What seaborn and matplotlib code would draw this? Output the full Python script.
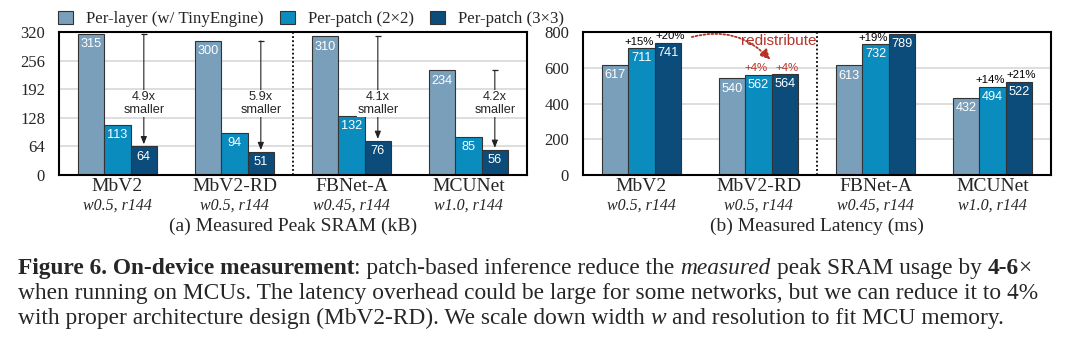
import matplotlib
matplotlib.use("Agg")
import matplotlib.pyplot as plt
from matplotlib.patches import Patch
import pandas as pd
import seaborn as sns

# ---- data -------------------------------------------------------------
models = ["MbV2", "MbV2-RD", "FBNet-A", "MCUNet"]
configs = ["w0.5, r144", "w0.5, r144", "w0.45, r144", "w1.0, r144"]
methods = ["Per-layer (w/ TinyEngine)", "Per-patch (2×2)", "Per-patch (3×3)"]

sram_per_layer = [315, 300, 310, 234]
sram_patch_2x2 = [113, 94, 132, 85]
sram_patch_3x3 = [64, 51, 76, 56]

latency_per_layer = [617, 540, 613, 432]
latency_patch_2x2 = [711, 562, 732, 494]
latency_patch_3x3 = [741, 564, 789, 522]

sram_ticks = [0, 64, 128, 192, 256, 320]
latency_ticks = [0, 200, 400, 600, 800]

# which latency overheads (2x2, 3x3) get a "+x%" tag, and in which colour
overhead_shown = [[True, True], [True, True], [True, False], [True, True]]
overhead_red = [False, True, False, False]

panel_titles = ["(a) Measured Peak SRAM (kB)", "(b) Measured Latency (ms)"]

# ---- style ------------------------------------------------------------
sns.set_style("white")
SERIF = ["Liberation Serif", "DejaVu Serif"]
SANS = ["Liberation Sans", "DejaVu Sans"]
plt.rcParams["font.family"] = SERIF

colors = ["#7a9fbb", "#0b8cbf", "#0b4c7b"]
edge = "#333333"
red = "#b5322a"

W, H = 1067, 342
fig = plt.figure(figsize=(W / 100, H / 100), dpi=100)
ax_sram = fig.add_axes([59 / W, 1 - 175 / H, 468 / W, 143 / H])
ax_lat = fig.add_axes([583 / W, 1 - 175 / H, 468 / W, 143 / H])


def long_frame(series):
    rows = []
    for method, values in zip(methods, series):
        for model, v in zip(models, values):
            rows.append({"model": model, "method": method, "value": v})
    return pd.DataFrame(rows)


def draw_panel(ax, df, ticks, title):
    sns.barplot(data=df, x="model", y="value", hue="method", order=models,
                hue_order=methods, palette=colors, saturation=1, width=0.675,
                gap=0, edgecolor=edge, linewidth=0.8, legend=False, ax=ax,
                zorder=2)
    ax.set_xlim(-0.5, 3.5)
    ax.set_ylim(ticks[0], ticks[-1])
    ax.set_yticks(ticks)
    ax.set_yticklabels([str(t) for t in ticks], fontsize=12)
    ax.set_xticks([])
    ax.set_xlabel("")
    ax.set_ylabel("")
    ax.tick_params(axis="y", length=0, pad=10)
    ax.yaxis.grid(True, color="#d4d4d4", lw=1.1, zorder=0)
    ax.set_axisbelow(True)
    for sp in ax.spines.values():
        sp.set_visible(True)
        sp.set_color("black")
        sp.set_linewidth(1.5)
        sp.set_zorder(5)
    ax.axvline(1.5, color="black", ls=(0, (1, 1.3)), lw=1.3, zorder=4)

    # value tags inside the bar tops
    for cont in ax.containers:
        for bar in cont:
            h = bar.get_height()
            ax.annotate(f"{h:.0f}", (bar.get_x() + bar.get_width() / 2, h),
                        xytext=(0, -3), textcoords="offset points",
                        ha="center", va="top", color="white", fontsize=9.2,
                        family=SANS, zorder=6)

    # model names and configurations under the axis
    xt = ax.get_xaxis_transform()
    for i, (m, c) in enumerate(zip(models, configs)):
        ax.text(i, -0.112, m, transform=xt, ha="center", va="baseline",
                fontsize=14)
        ax.text(i, -0.24, c, transform=xt, ha="center", va="baseline",
                fontsize=11.5, style="italic")
    ax.text(0.5, -0.39, title, transform=ax.transAxes, ha="center",
            va="baseline", fontsize=14)


draw_panel(ax_sram, long_frame([sram_per_layer, sram_patch_2x2, sram_patch_3x3]),
           sram_ticks, panel_titles[0])
draw_panel(ax_lat, long_frame([latency_per_layer, latency_patch_2x2, latency_patch_3x3]),
           latency_ticks, panel_titles[1])

# ---- (a) reduction arrows ---------------------------------------------
dark_x = [b.get_x() + b.get_width() / 2 for b in ax_sram.containers[2]]
for x, top, low in zip(dark_x, sram_per_layer, sram_patch_3x3):
    ax_sram.annotate("", xy=(x, low), xytext=(x, top),
                     arrowprops=dict(arrowstyle="-|>,head_length=0.45,head_width=0.18",
                                     color="#222222", lw=0.8, shrinkA=0, shrinkB=1.5),
                     zorder=3)
    ax_sram.plot([x], [top], marker="_", ms=5, mew=0.9, color="#222222", zorder=3)
    ax_sram.text(x, 160, f"{top / low:.1f}x\nsmaller", ha="center", va="center",
                 fontsize=9.2, family=SANS, linespacing=1.15, zorder=4,
                 bbox=dict(fc="white", ec="none", pad=0.5))

# ---- (b) latency overhead tags ----------------------------------------
# 2x2 tags lean slightly left, 3x3 tags slightly right, so neighbours clear
for j, (series, cont, dx) in enumerate(zip([latency_patch_2x2, latency_patch_3x3],
                                           ax_lat.containers[1:], [-1.6, 1.6])):
    for i, (bar, v) in enumerate(zip(cont, series)):
        if not overhead_shown[i][j]:
            continue
        pct = round((v / latency_per_layer[i] - 1) * 100)
        ax_lat.annotate(f"+{pct}%", (bar.get_x() + bar.get_width() / 2, v),
                        xytext=(dx, 1.0), textcoords="offset points",
                        ha="center", va="bottom", fontsize=8.2, family=SANS,
                        color=red if overhead_red[i] else "black", zorder=6)

ax_lat.annotate("", xy=(1.1, 645), xytext=(0.43, 772),
                arrowprops=dict(arrowstyle="-|>,head_length=0.6,head_width=0.3",
                                color=red, lw=1.3, ls=(0, (1, 1.2)),
                                connectionstyle="arc3,rad=-0.3",
                                shrinkA=0, shrinkB=0), zorder=6)
ax_lat.text(1.175, 752, "redistribute", color=red, ha="center", va="center",
            fontsize=11, family=SANS, zorder=6)

# ---- legend -------------------------------------------------------------
handles = [Patch(facecolor=c, edgecolor=edge, lw=0.8, label=m)
           for c, m in zip(colors, methods)]
fig.legend(handles=handles, loc="center left", bbox_to_anchor=(58 / W, 1 - 19 / H),
           ncol=3, frameon=False, fontsize=12.2, handlelength=0.9,
           handleheight=0.85, handletextpad=0.75, columnspacing=0.95,
           borderpad=0, borderaxespad=0)

# ---- caption ------------------------------------------------------------
caption_lines = [
    [("Figure 6. On-device measurement", "bold", "normal"),
     (": patch-based inference reduce the", "normal", "normal"), (" ",) * 3,
     ("measured", "normal", "italic"), (" ",) * 3,
     ("peak SRAM usage by", "normal", "normal"), (" ",) * 3,
     ("4-6", "bold", "normal"), ("×", "normal", "normal")],
    [("when running on MCUs. The latency overhead could be large for some "
      "networks, but we can reduce it to 4%", "normal", "normal")],
    [("with proper architecture design (MbV2-RD). We scale down width",
      "normal", "normal"), (" ",) * 3, ("w", "normal", "italic"), (" ",) * 3,
     ("and resolution to fit MCU memory.", "normal", "normal")],
]
caption_size = 16.8
renderer = fig.canvas.get_renderer()
for runs, base in zip(caption_lines, [274, 299, 324]):
    x = 18
    for text, weight, style in runs:
        if text == " ":
            x += 0.25 * caption_size * 100 / 72
            continue
        t = fig.text(x / W, 1 - base / H, text, ha="left", va="baseline",
                     fontsize=caption_size, fontweight=weight, fontstyle=style)
        x = t.get_window_extent(renderer).x1

fig.savefig("out.png", dpi=100)
